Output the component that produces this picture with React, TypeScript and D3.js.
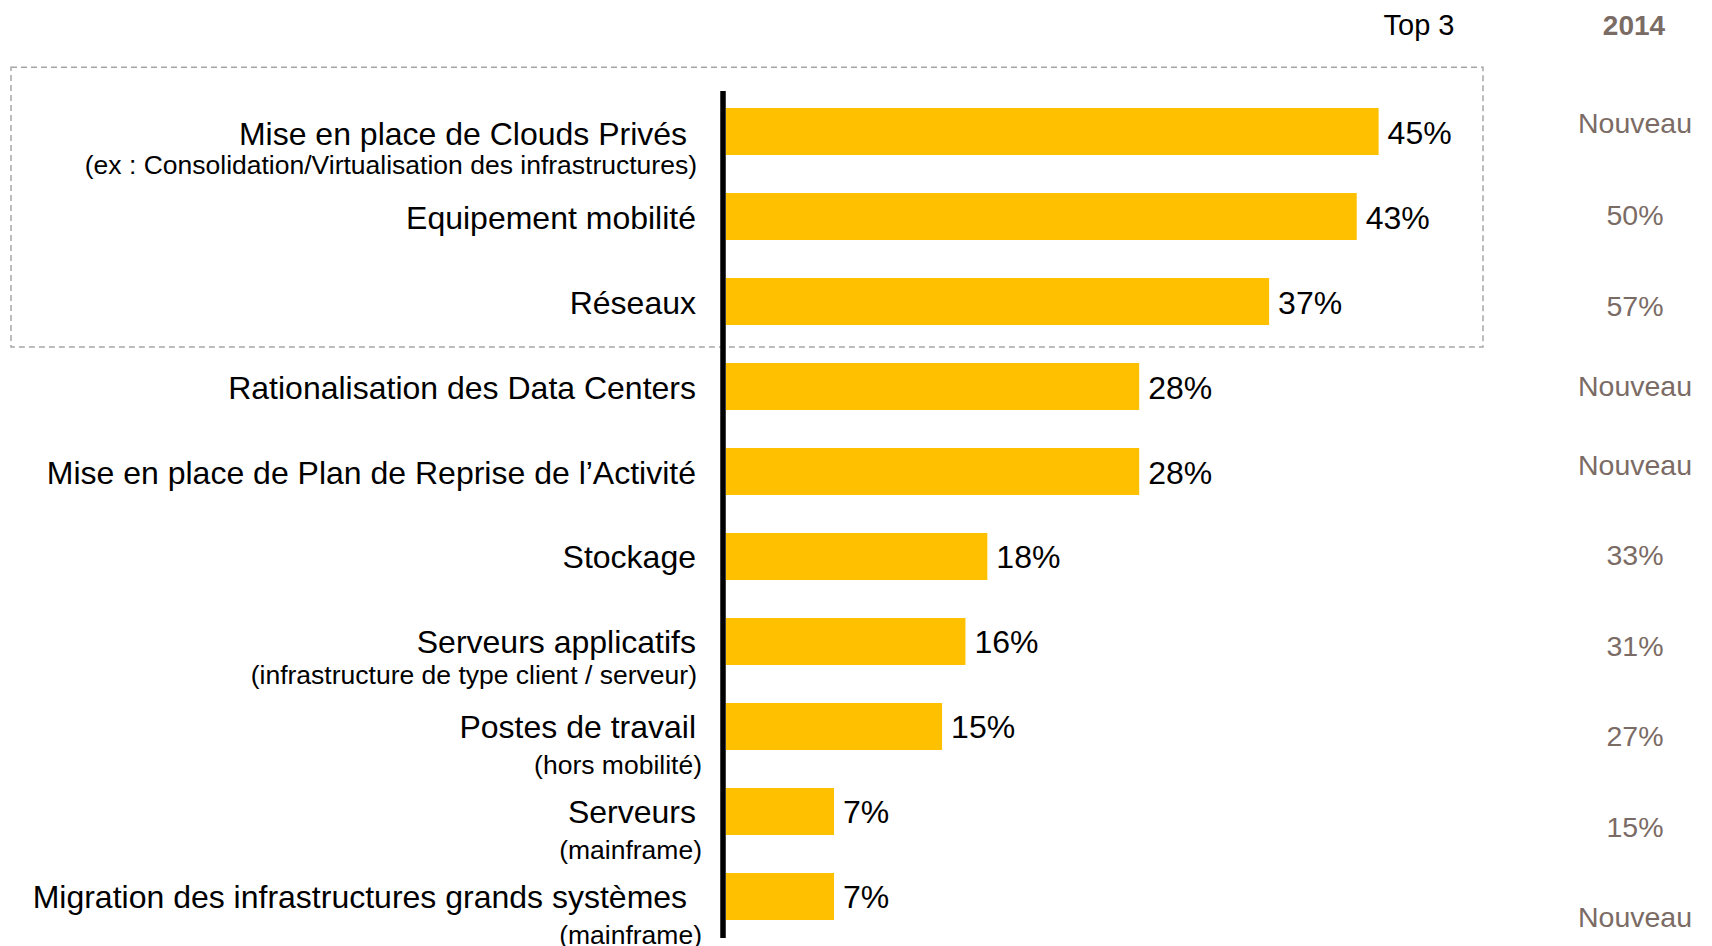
import React from 'react';
import * as d3 from 'd3';

const categories = [
  'Mise en place de Clouds Privés ',
  'Equipement mobilité',
  'Réseaux',
  'Rationalisation des Data Centers',
  'Mise en place de Plan de Reprise de l’Activité',
  'Stockage',
  'Serveurs applicatifs',
  'Postes de travail',
  'Serveurs',
  'Migration des infrastructures grands systèmes ',
];

const subLabels = [
  '(ex : Consolidation/Virtualisation des infrastructures)',
  '',
  '',
  '',
  '',
  '',
  '(infrastructure de type client / serveur)',
  '(hors mobilité)',
  '(mainframe)',
  '(mainframe)',
];

// bar lengths; labels show them rounded
const top3Values = [44.7, 43.2, 37.2, 28.3, 28.3, 17.9, 16.4, 14.8, 7.4, 7.4];

const values2014 = ['Nouveau', '50%', '57%', 'Nouveau', 'Nouveau', '33%', '31%', '27%', '15%', 'Nouveau'];

const App = () => {
  const width = 1712;
  const height = 946;
  const yellow = '#FFC000';
  const brown = '#7b6b65';
  const font = '"Liberation Sans", Arial, sans-serif';

  const xScale = d3.scaleLinear().domain([0, 50]).range([726, 1456]);

  const yScale = d3
    .scaleBand()
    .domain(categories)
    .range([91, 937])
    .paddingInner(0.447)
    .paddingOuter(0.2);

  // the 2014 column is typed on its own uneven spacing, not on the bars
  const y2014 = d3.scaleLinear().domain([0, 2, 4, 9]).range([133, 316, 475, 927]);

  const bw = yScale.bandwidth();
  const step = yScale.step();
  const boxTop = yScale(categories[0]) - 0.48 * step;
  const boxBottom = yScale(categories[2]) + bw + 0.26 * step;

  return (
    <svg
      width={width}
      height={height}
      viewBox={`0 0 ${width} ${height}`}
      style={{ position: 'absolute', left: 0, top: 0, fontFamily: font }}
    >
      <rect
        x={11}
        y={boxTop}
        width={1483 - 11}
        height={boxBottom - boxTop}
        fill='none'
        stroke='#a6a6a6'
        strokeWidth='1.5'
        strokeDasharray='6,4'
      />

      <text x={1419} y={35} fontSize='29' textAnchor='middle' fill='#000'>
        Top 3
      </text>
      <text x={1634} y={35} fontSize='28' fontWeight='bold' textAnchor='middle' fill={brown}>
        2014
      </text>

      {categories.map((c, i) => (
        <rect
          key={`bar-${i}`}
          x={xScale(0)}
          y={yScale(c)}
          width={xScale(top3Values[i]) - xScale(0)}
          height={bw}
          fill={yellow}
        />
      ))}

      <line
        x1={xScale(0) - 3}
        x2={xScale(0) - 3}
        y1={91}
        y2={938}
        stroke='#000'
        strokeWidth='5.5'
      />

      {categories.map((c, i) => {
        const cy = yScale(c) + bw / 2;
        const sub = subLabels[i];
        return (
          <g key={`label-${i}`}>
            <text
              x={696}
              y={sub ? cy + (i === 0 ? 13.5 : 11.5) : cy + 12}
              fontSize='32'
              textAnchor='end'
              fill='#000'
              style={{ whiteSpace: 'pre' }}
            >
              {c}
            </text>
            {sub && (
              <text
                x={i >= 7 ? 702 : 697}
                y={cy + (i >= 7 ? 48 : 42.5)}
                fontSize='26.5'
                textAnchor='end'
                fill='#000'
              >
                {sub}
              </text>
            )}
          </g>
        );
      })}

      {categories.map((c, i) => (
        <text
          key={`val-${i}`}
          x={xScale(top3Values[i]) + 9}
          y={yScale(c) + bw / 2 + 12}
          fontSize='32'
          fill='#000'
        >
          {`${Math.round(top3Values[i])}%`}
        </text>
      ))}

      {categories.map((c, i) => (
        <text
          key={`old-${i}`}
          x={1635}
          y={y2014(i)}
          fontSize='28.5'
          textAnchor='middle'
          fill={brown}
        >
          {values2014[i]}
        </text>
      ))}
    </svg>
  );
};

export default App;
